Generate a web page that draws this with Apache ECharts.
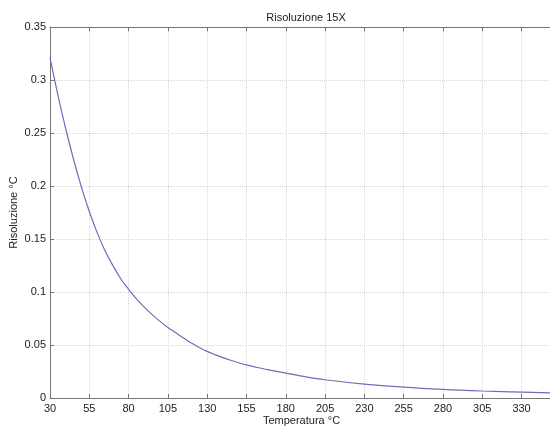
<!DOCTYPE html>
<html>
<head>
<meta charset="utf-8">
<script src="https://cdn.jsdelivr.net/npm/echarts@6/dist/echarts.min.js"></script>
<style>
  html, body { margin: 0; padding: 0; background: #fff; }
  #chart { width: 550px; height: 429px; }
</style>
</head>
<body>
<div id="chart"></div>
<script>
  // temperatura (°C) e risoluzione (°C)
  var temperatura = [30, 35, 40, 45, 50, 55, 60, 65, 70, 75, 80, 85, 90, 95, 100, 105, 110, 115, 120, 125, 130, 135, 140, 145, 150, 155, 165, 170, 180, 190, 205, 230, 255, 280, 305, 330, 350];
  var risoluzione = [0.321, 0.286, 0.254, 0.225, 0.199, 0.176, 0.156, 0.139, 0.125, 0.1125, 0.1025, 0.0935, 0.0857, 0.0787, 0.0723, 0.0665, 0.0615, 0.0566, 0.0518, 0.0476, 0.044, 0.0409, 0.0381, 0.0356, 0.0333, 0.0312, 0.0278, 0.0263, 0.0235, 0.0207, 0.0172, 0.0131, 0.0102, 0.0081, 0.0066, 0.0055, 0.0047];

  var punti = temperatura.map(function (t, i) { return [t, risoluzione[i]]; });

  var font = 'Liberation Sans, Arial, sans-serif';
  var axisColor = '#777';

  var myChart = echarts.init(document.getElementById('chart'));
  var option = {
    animation: false,
    title: {
      text: 'Risoluzione 15X',
      left: 301,
      textAlign: 'center',
      top: 7,
      textStyle: { fontFamily: font, fontSize: 11, fontWeight: 'normal', color: '#222' }
    },
    grid: { left: 50, top: 27, right: -3, bottom: 31, outerBoundsMode: 'none' },
    xAxis: [{
      type: 'value',
      min: 30,
      max: 350,
      interval: 25,
      name: 'Temperatura °C',
      nameLocation: 'middle',
      nameGap: 17,
      nameMoveOverlap: false,
      nameTextStyle: { fontFamily: font, fontSize: 11, color: '#222' },
      axisLine: { show: true, lineStyle: { color: axisColor, width: 1 } },
      axisTick: { show: true, inside: true, length: 4, lineStyle: { color: axisColor } },
      axisLabel: { fontFamily: font, fontSize: 11, color: '#222', margin: 5, showMaxLabel: false },
      splitLine: { show: true, lineStyle: { color: '#d6d6d6', type: 'dotted', width: 1 } }
    }, {
      type: 'value',
      position: 'top',
      min: 30,
      max: 350,
      interval: 25,
      axisLine: { show: true, lineStyle: { color: axisColor, width: 1 } },
      axisTick: { show: true, inside: true, length: 4, lineStyle: { color: axisColor } },
      axisLabel: { show: false },
      splitLine: { show: false }
    }],
    yAxis: {
      type: 'value',
      min: 0,
      max: 0.35,
      interval: 0.05,
      name: 'Risoluzione °C',
      nameLocation: 'middle',
      nameGap: 31,
      nameMoveOverlap: false,
      nameTextStyle: { fontFamily: font, fontSize: 11, color: '#222' },
      axisLine: { show: true, lineStyle: { color: axisColor, width: 1 } },
      axisTick: { show: true, inside: true, length: 4, lineStyle: { color: axisColor } },
      axisLabel: { fontFamily: font, fontSize: 11, color: '#222', margin: 4 },
      splitLine: { show: true, lineStyle: { color: '#d6d6d6', type: 'dotted', width: 1 } }
    },
    series: [{
      type: 'line',
      data: punti,
      smooth: 0.4,
      showSymbol: false,
      lineStyle: { color: '#6d6dbb', width: 1.2 }
    }]
  };
  myChart.setOption(option);
</script>
</body>
</html>
